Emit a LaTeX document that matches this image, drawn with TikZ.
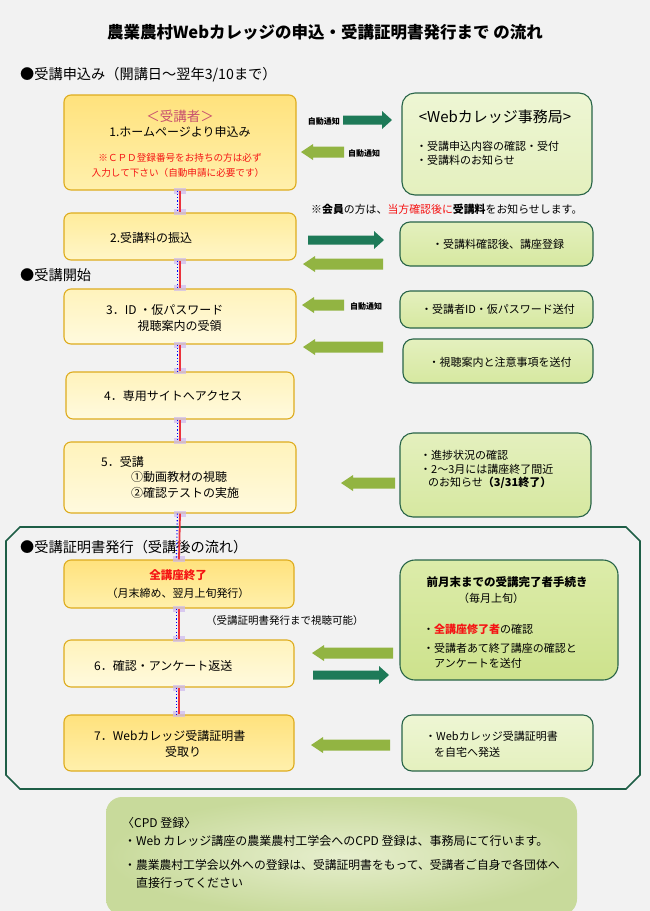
\documentclass[tikz,border=0pt]{standalone}
\usepackage{fontspec}
\setmainfont{Noto Sans CJK JP}
\newcommand\FS[1]{\fontsize{#1}{#1}\selectfont}
\definecolor{bgc}{RGB}{242,242,242}
\definecolor{goldb}{RGB}{222,172,30}
\definecolor{lyA}{RGB}{255,226,125}
\definecolor{lyB}{RGB}{255,240,172}
\definecolor{lmA}{RGB}{255,236,155}
\definecolor{lmB}{RGB}{255,246,200}
\definecolor{lpA}{RGB}{255,243,188}
\definecolor{lpB}{RGB}{255,250,222}
\definecolor{gborder}{RGB}{40,100,72}
\definecolor{gpA}{RGB}{238,246,212}
\definecolor{gpB}{RGB}{228,240,190}
\definecolor{gmA}{RGB}{228,240,190}
\definecolor{gmB}{RGB}{214,232,160}
\definecolor{gsA}{RGB}{220,236,170}
\definecolor{gsB}{RGB}{205,226,140}
\definecolor{darkarrc}{RGB}{30,122,88}
\definecolor{lightarrc}{RGB}{146,180,66}
\definecolor{redl}{RGB}{235,50,60}
\definecolor{redt}{RGB}{245,20,20}
\definecolor{pinkt}{RGB}{200,80,110}
\definecolor{framec}{RGB}{30,94,70}
\definecolor{lavc}{RGB}{205,185,240}
\definecolor{cpdA}{RGB}{230,238,205}
\definecolor{cpdB}{RGB}{200,218,155}
\newcommand\DarkArr[3]{\fill[darkarrc] (#1,#3-4.5) -- (#2-10,#3-4.5) -- (#2-10,#3-9) -- (#2,#3) -- (#2-10,#3+9) -- (#2-10,#3+4.5) -- (#1,#3+4.5) -- cycle;}
\newcommand\LightArr[3]{\fill[lightarrc] (#1,#3) -- (#1+12,#3-8) -- (#1+12,#3-5.5) -- (#2,#3-5.5) -- (#2,#3+5.5) -- (#1+12,#3+5.5) -- (#1+12,#3+8) -- cycle;}
\begin{document}
\begin{tikzpicture}[x=1pt,y=-1pt,
  lbox/.style={draw=goldb, line width=1.1pt, rounded corners=7pt, inner sep=0pt},
  sat/.style={top color=lyA, bottom color=lyB},
  med/.style={top color=lmA, bottom color=lmB},
  pale/.style={top color=lpA, bottom color=lpB},
  rbox/.style={draw=gborder, line width=1.1pt, rounded corners=10pt, inner sep=0pt},
  gpale/.style={top color=gpA, bottom color=gpB},
  gmed/.style={top color=gmA, bottom color=gmB},
  gsat/.style={top color=gsA, bottom color=gsB},
  txt/.style={inner sep=0pt, font=\FS{12}},
  rtxt/.style={inner sep=0pt, font=\FS{11}},
  ctxt/.style={inner sep=0pt, anchor=west, font=\FS{12}},
  hd/.style={inner sep=0pt, anchor=west, font=\FS{14.2}},
  lbl/.style={inner sep=0pt, font=\FS{8}\bfseries},
  redline/.style={draw=redl, line width=1.8pt},
  bluedot/.style={draw=blue, line width=1.1pt, dash pattern=on 1.1pt off 2.2pt},
  lavsq/.style={fill=lavc, fill opacity=0.7}
]
\useasboundingbox (0,0) rectangle (650,911);
\fill[bgc] (0,0) rectangle (650,911);

% frame of the third section
\draw[framec, line width=1.6pt] (20,527) -- (626,527) -- (640,541) -- (640,775) -- (626,789) -- (20,789) -- (6,775) -- (6,541) -- cycle;

% CPD box
\shade[inner color=cpdA, outer color=cpdB, rounded corners=16pt] (106,797) rectangle (577,915);

% left boxes
\node[lbox,sat, minimum width=232, minimum height=95] (b1) at (180,142.5) {};
\node[lbox,med, minimum width=232, minimum height=47] (b2) at (180,236.5) {};
\node[lbox,pale,minimum width=232, minimum height=55] (b3) at (180,316.5) {};
\node[lbox,pale,minimum width=228, minimum height=47] (b4) at (180,395.5) {};
\node[lbox,pale,minimum width=232, minimum height=71] (b5) at (180,477.5) {};
\node[lbox,sat, minimum width=230, minimum height=48] (b6) at (179,584) {};
\node[lbox,pale,minimum width=230, minimum height=47] (b7) at (179,663.5) {};
\node[lbox,sat, minimum width=230, minimum height=56] (b8) at (179,743) {};

% right boxes
\node[rbox,gpale,rounded corners=13pt,minimum width=190, minimum height=102] (r1) at (497,144) {};
\node[rbox,gmed, minimum width=193, minimum height=44] (r2) at (496.5,244) {};
\node[rbox,gmed, minimum width=193, minimum height=37] (r3) at (496.5,309.5) {};
\node[rbox,gmed, minimum width=190, minimum height=44] (r4) at (498,361) {};
\node[rbox,gmed, rounded corners=13pt,minimum width=191, minimum height=84] (r5) at (495.5,475) {};
\node[rbox,gsat, rounded corners=15pt,minimum width=218, minimum height=120] (r6) at (509,620) {};
\node[rbox,gpale,minimum width=191, minimum height=56] (r8) at (497.5,743) {};

% arrows
\DarkArr{343}{392}{120}
\LightArr{301}{344}{152}
\DarkArr{308}{384}{240}
\LightArr{303}{383}{264}
\LightArr{302}{344}{305}
\LightArr{303}{383}{347}
\LightArr{341}{395}{483}
\LightArr{312}{393}{653}
\DarkArr{313}{389}{675}
\LightArr{311}{390}{745}

\node[lbl,anchor=east] (l1) at (340,121) {自動通知};
\node[lbl,anchor=west] (l2) at (348,153) {自動通知};
\node[lbl,anchor=west] (l3) at (350,306) {自動通知};

% title and headers
\node[inner sep=0pt, font=\FS{16.5}\bfseries] (title) at (325,32) {農業農村Webカレッジの申込・受講証明書発行まで の流れ};
\node[hd] (h1) at (20,75) {●受講申込み（開講日～翌年3/10まで）};
\node[hd] (h2) at (20,275) {●受講開始};
\node[hd] (h3) at (20,547) {●受講証明書発行（受講後の流れ）};

% texts of left boxes
\node[inner sep=0pt, font=\FS{13.5}, text=pinkt] (t1a) at (180,116) {＜受講者＞};
\node[txt] (t1b) at (180,132) {1.ホームページより申込み};
\node[inner sep=0pt, font=\FS{9.6}, text=redt] (t1c) at (180,158) {※ＣＰＤ登録番号をお持ちの方は必ず};
\node[inner sep=0pt, font=\FS{9.6}, text=redt] (t1d) at (178,173) {入力して下さい（自動申請に必要です）};
\node[txt,anchor=west] (t2) at (110,238) {2.受講料の振込};
\node[txt,anchor=west] (t3a) at (106,310) {3．ID ・仮パスワード};
\node[txt] (t3b) at (179.5,326) {視聴案内の受領};
\node[txt,anchor=west] (t4) at (104,396) {4．専用サイトへアクセス};
\node[txt,anchor=west] (t5a) at (101,462) {5．受講};
\node[txt,anchor=west] (t5b) at (131,477) {①動画教材の視聴};
\node[txt,anchor=west] (t5c) at (131,493) {②確認テストの実施};
\node[txt,font=\FS{11.5}\bfseries,text=redt] (t6a) at (178,575) {全講座終了};
\node[rtxt] (t6b) at (178,593) {（月末締め、翌月上旬発行）};
\node[inner sep=0pt,font=\FS{10.5},anchor=west] (note2) at (206,621) {（受講証明書発行まで視聴可能）};
\node[txt,anchor=west] (t7) at (94,666) {6．確認・アンケート返送};
\node[txt,anchor=west] (t8a) at (94,736) {7．Webカレッジ受講証明書};
\node[txt] (t8b) at (183,752) {受取り};

% texts of right boxes
\node[inner sep=0pt, font=\FS{15}] (r1a) at (495,117) {<Webカレッジ事務局>};
\node[rtxt,anchor=west] (r1b) at (416,146) {・受講申込内容の確認・受付};
\node[rtxt,anchor=west] (r1c) at (416,160) {・受講料のお知らせ};
\node[inner sep=0pt,font=\FS{10.9},anchor=west] (note1) at (311,209) {※\textbf{会員}の方は、\textcolor{redt}{当方確認後に}\textbf{受講料}をお知らせします。};
\node[rtxt] (r2a) at (498,244) {・受講料確認後、講座登録};
\node[rtxt] (r3a) at (498,309) {・受講者ID・仮パスワード送付};
\node[rtxt] (r4a) at (500,362) {・視聴案内と注意事項を送付};
\node[rtxt,anchor=west] (r5a) at (420,455) {・進捗状況の確認};
\node[rtxt,anchor=west] (r5b) at (420,469) {・2～3月には講座終了間近};
\node[rtxt,anchor=west] (r5c) at (428,483) {のお知らせ\textbf{（3/31終了）}};
\node[inner sep=0pt,font=\FS{11.5}\bfseries] (r6a) at (507,582) {前月末までの受講完了者手続き};
\node[rtxt] (r6b) at (491,598) {（毎月上旬）};
\node[rtxt,anchor=west] (r6c) at (423,629) {・\textcolor{redt}{\textbf{全講座修了者}}の確認};
\node[rtxt,anchor=west] (r6d) at (423,648) {・受講者あて終了講座の確認と};
\node[rtxt,anchor=west] (r6e) at (434,663) {アンケートを送付};
\node[rtxt,anchor=west] (r8a) at (425,736) {・Webカレッジ受講証明書};
\node[rtxt,anchor=west] (r8b) at (434,752) {を自宅へ発送};

% CPD texts
\node[ctxt] (c1) at (122,823) {〈CPD 登録〉};
\node[ctxt] (c2) at (124,841) {・Web カレッジ講座の農業農村工学会へのCPD 登録は、事務局にて行います。};
\node[ctxt,font=\FS{11.8}] (c3) at (124,865) {・農業農村工学会以外への登録は、受講証明書をもって、受講者ご自身で各団体へ};
\node[ctxt] (c4) at (136,883) {直接行ってください};

% connectors
\foreach \a/\b in {b1/b2,b2/b3,b3/b4,b4/b5,b5/b6,b6/b7,b7/b8}{
  \fill[lavsq] ([xshift=-6pt,yshift=3pt]\a.south) rectangle ([xshift=6pt,yshift=-3pt]\a.south);
  \fill[lavsq] ([xshift=-6pt,yshift=3pt]\b.north) rectangle ([xshift=6pt,yshift=-3pt]\b.north);
  \draw[redline] (\a.south) -- (\b.north);
  \draw[bluedot] ([xshift=-2.6pt]\a.south) -- ([xshift=-2.6pt]\b.north);
}
\end{tikzpicture}
\end{document}
